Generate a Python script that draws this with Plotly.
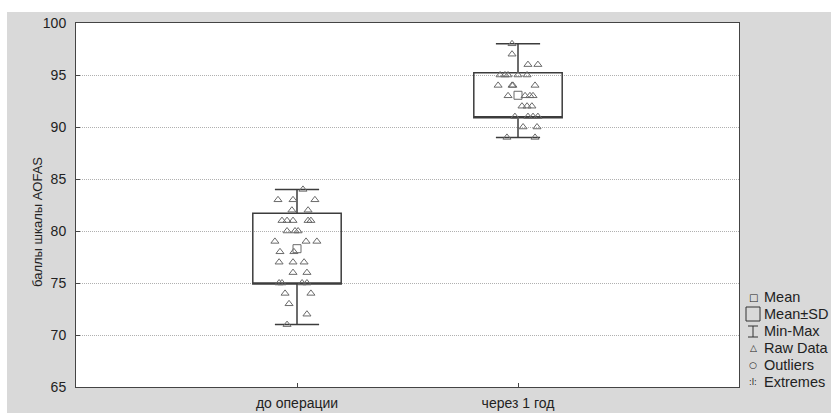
import plotly.graph_objects as go

categories = ["до операции", "через 1 год"]

# Raw AOFAS scores
before_vals = [84, 83, 83, 83, 82, 82, 81, 81, 81, 81, 81, 80, 80, 80, 79, 79, 79,
               78, 78, 77, 77, 77, 76, 76, 75, 75, 75, 75, 74, 74, 73, 72, 71]
before_jitter = [0.027, -0.086, -0.018, 0.081, -0.023, 0.050, -0.068, -0.045, -0.018, 0.050, 0.063,
                 -0.045, -0.009, 0.005, -0.100, 0.041, 0.090, -0.077, -0.014, -0.081, -0.018, 0.032,
                 -0.018, 0.045, -0.081, -0.068, 0.023, 0.045, -0.054, 0.063, -0.036, 0.045, -0.045]

after_vals = [98, 97, 96, 96, 95, 95, 95, 95, 95, 94, 94, 94, 94, 93, 93, 93, 93,
              92, 92, 92, 91, 91, 91, 91, 90, 90, 89, 89]
after_jitter = [-0.027, -0.027, 0.045, 0.090, -0.081, -0.059, -0.045, 0.000, 0.041,
                -0.090, -0.027, -0.023, 0.077, -0.045, 0.032, 0.054, 0.068,
                0.018, 0.041, 0.063, -0.014, 0.045, 0.068, 0.090, 0.023, 0.086, -0.050, 0.077]

# Mean and SD
means = [78.3, 93.05]
sds = [3.4, 2.17]

yticks = [65, 70, 75, 80, 85, 90, 95, 100]

groups = [before_vals, after_vals]
jitters = [before_jitter, after_jitter]

BOX = "#3c3c3c"
PT = "#6a6a6a"
BG = "#d9d9d9"
FONT = "Liberation Sans, Arial"

fig = go.Figure()

for i, (vals, m, s) in enumerate(zip(groups, means, sds)):
    pos = i + 1
    fig.add_trace(go.Box(
        x=[pos], q1=[m - s], median=[m - s], q3=[m + s],
        lowerfence=[min(vals)], upperfence=[max(vals)],
        width=0.4, whiskerwidth=0.5,
        fillcolor="rgba(255,255,255,0)",
        line=dict(color=BOX, width=1.5),
        boxpoints=False, showlegend=False, hoverinfo="skip",
    ))

for i, (vals, jit) in enumerate(zip(groups, jitters)):
    pos = i + 1
    fig.add_trace(go.Scatter(
        x=[pos + j for j in jit], y=vals, mode="markers",
        marker=dict(symbol="triangle-up-open", size=7, color=PT, line=dict(width=1, color=PT)),
        showlegend=False,
    ))

fig.add_trace(go.Scatter(
    x=[1, 2], y=means, mode="markers",
    marker=dict(symbol="square-open", size=8, color=PT, line=dict(width=1, color=PT)),
    showlegend=False,
))

L, R, T, B = 76, 92, 23, 26
W, H = 831, 413
pw, ph = W - L - R, H - T - B


def px(xp):
    return (xp - L) / pw


def py(yp):
    return (H - B - yp) / ph


# legend drawn as text (icons as glyphs / outline shapes)
legend_labels = ["Mean", "Mean±SD", "Min-Max", "Raw Data", "Outliers", "Extremes"]
legend_icons = [("□", 10), None, None, ("△", 9), ("○", 9), (":I:", 8)]
legend_y_px = [297, 314, 331, 348, 365, 382]

annotations = []
shapes = [
    dict(type="rect", xref="paper", yref="paper", x0=-0.2, x1=1.3, y0=py(12), y1=1.2,
         fillcolor="white", line=dict(width=0), layer="below"),
    dict(type="rect", xref="paper", yref="paper", x0=-0.2, x1=px(7), y0=-0.2, y1=1.2,
         fillcolor="white", line=dict(width=0), layer="below"),
]
for label, icon, ypx in zip(legend_labels, legend_icons, legend_y_px):
    if icon is not None:
        annotations.append(dict(x=px(753), y=py(ypx), xref="paper", yref="paper", text=icon[0],
                                showarrow=False, xanchor="center", yanchor="middle", borderpad=0,
                                font=dict(size=icon[1], color="#222", family="DejaVu Sans")))
    annotations.append(dict(x=px(762), y=py(ypx), xref="paper", yref="paper", text=label,
                            showarrow=False, xanchor="left", yanchor="middle",
                            font=dict(size=14.5, color="#222", family=FONT)))

# Mean±SD icon
shapes.append(dict(type="rect", xref="paper", yref="paper", x0=px(746), x1=px(760),
                   y0=py(321), y1=py(307), line=dict(color="#333", width=1), fillcolor="rgba(0,0,0,0)"))
# Min-Max icon
for seg in [(753, 326, 753, 337), (748, 326, 758, 326), (748, 337, 758, 337)]:
    shapes.append(dict(type="line", xref="paper", yref="paper", x0=px(seg[0]), y0=py(seg[1]),
                       x1=px(seg[2]), y1=py(seg[3]), line=dict(color="#333", width=1)))

annotations.append(dict(x=px(37), y=py(222), xref="paper", yref="paper",
                        text="баллы шкалы AOFAS", textangle=-90, showarrow=False,
                        xanchor="center", yanchor="middle",
                        font=dict(size=13, color="#222", family=FONT)))

fig.update_layout(
    width=W, height=H,
    margin=dict(l=L, r=R, t=T, b=B),
    paper_bgcolor=BG, plot_bgcolor="white",
    showlegend=False,
    annotations=annotations,
    shapes=shapes,
    font=dict(family=FONT, color="#222"),
    xaxis=dict(range=[0, 3], tickvals=[1, 2], ticktext=categories, showgrid=False,
               showline=True, mirror=True, linecolor="#444", linewidth=1,
               ticks="inside", ticklen=4, tickcolor="#444", ticklabelstandoff=3,
               tickfont=dict(size=14, color="#222"), zeroline=False, fixedrange=True,
               automargin=False),
    yaxis=dict(range=[65, 100], tickvals=yticks, showgrid=True, gridcolor="#b0b0b0",
               griddash="1px,1px", gridwidth=1,
               showline=True, mirror=True, linecolor="#444", linewidth=1,
               ticks="inside", ticklen=4, tickcolor="#444", ticklabelstandoff=6,
               tickfont=dict(size=14, color="#222"), zeroline=False, fixedrange=True,
               automargin=False),
)

fig.write_html("out.html", config={"displayModeBar": False},
               post_script="document.body.style.margin='0';document.body.style.overflow='hidden';")
